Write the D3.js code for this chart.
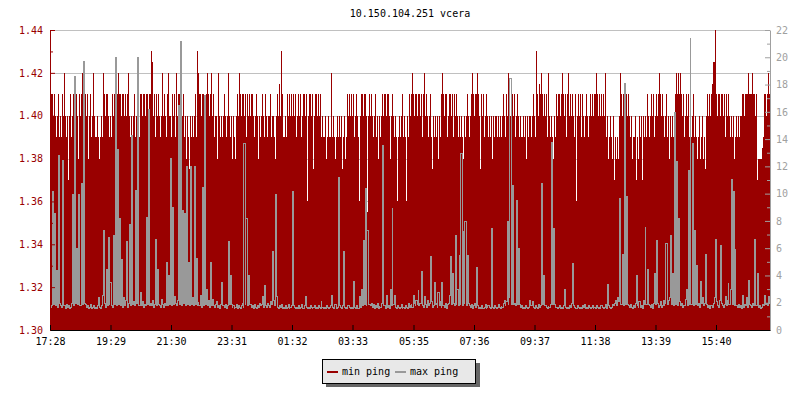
<!DOCTYPE html>
<html><head><meta charset="utf-8">
<script src="https://cdn.jsdelivr.net/npm/d3@7"></script>
<style>
body{margin:0;background:#fff;}
text{font-family:"DejaVu Sans Mono",monospace;font-size:10px;}
</style>
</head><body>
<svg id="chart" width="800" height="400"></svg>
<script>
const title = "10.150.104.251 vcera";
const startLabel = "17:28";
const stepMinutes = 2;
const spanMinutes = 1440;
const timeTicks = ["17:28","19:29","21:30","23:31","01:32","03:33","05:35","07:36","09:37","11:38","13:39","15:40"];
const leftTicks = [1.30,1.32,1.34,1.36,1.38,1.40,1.42,1.44];
const leftMinorTicks = [1.31,1.33,1.35,1.37,1.39,1.41,1.43];
const rightTicks = [0,2,4,6,8,10,12,14,16,18,20,22];
const rightMinorTicks = [1,3,5,7,9,11,13,15,17,19,21];
const seriesNames = ["min ping","max ping"];

// min ping (left axis), one value per 2 minutes
const minPing = [
1.41,1.41,1.41,1.40,1.41,1.40,1.39,1.40,1.41,1.39,1.40,1.39,1.41,1.40,1.42,1.40,1.39,1.40,1.37,1.40,1.41,1.39,1.40,1.41,1.40,1.39,1.41,1.40,1.38,1.41,1.40,1.41,1.42,1.40,1.39,1.41,1.40,1.41,1.38,1.40,1.41,1.39,1.40,1.42,1.40,1.39,1.39,1.40,1.39,1.38,1.39,1.40,1.39,1.42,1.41,1.40,1.41,1.41,1.40,1.39,
1.40,1.39,1.41,1.40,1.41,1.41,1.40,1.41,1.42,1.41,1.41,1.40,1.41,1.41,1.40,1.41,1.40,1.41,1.42,1.40,1.39,1.40,1.39,1.40,1.41,1.39,1.40,1.38,1.40,1.39,1.41,1.41,1.40,1.41,1.41,1.40,1.41,1.41,1.40,1.41,1.41,1.43,1.425,1.40,1.41,1.39,1.41,1.40,1.41,1.40,1.39,1.40,1.42,1.40,1.41,1.40,1.39,1.41,1.42,1.40,
1.40,1.39,1.41,1.40,1.41,1.39,1.42,1.40,1.41,1.41,1.40,1.41,1.40,1.41,1.39,1.40,1.38,1.40,1.39,1.375,1.40,1.39,1.40,1.39,1.40,1.41,1.39,1.43,1.42,1.41,1.41,1.40,1.41,1.41,1.40,1.37,1.41,1.42,1.41,1.40,1.41,1.42,1.40,1.41,1.39,1.40,1.40,1.38,1.42,1.40,1.39,1.40,1.39,1.40,1.41,1.40,1.39,1.40,1.42,1.40,
1.39,1.40,1.38,1.40,1.39,1.38,1.40,1.41,1.40,1.42,1.41,1.40,1.41,1.41,1.40,1.41,1.39,1.41,1.40,1.41,1.40,1.41,1.41,1.40,1.39,1.40,1.41,1.40,1.38,1.40,1.39,1.40,1.41,1.40,1.39,1.41,1.40,1.39,1.40,1.40,1.41,1.39,1.40,1.40,1.39,1.38,1.40,1.41,1.40,1.415,1.40,1.43,1.41,1.39,1.39,1.40,1.39,1.41,1.40,1.41,
1.40,1.41,1.40,1.41,1.40,1.41,1.39,1.40,1.41,1.40,1.41,1.39,1.40,1.41,1.41,1.40,1.41,1.36,1.40,1.41,1.41,1.40,1.41,1.375,1.40,1.41,1.41,1.40,1.41,1.40,1.41,1.39,1.40,1.39,1.39,1.40,1.38,1.39,1.40,1.39,1.39,1.42,1.39,1.40,1.39,1.38,1.39,1.40,1.39,1.40,1.39,1.40,1.375,1.39,1.40,1.38,1.39,1.41,1.40,1.41,
1.40,1.41,1.40,1.41,1.39,1.40,1.41,1.40,1.39,1.36,1.40,1.41,1.41,1.40,1.41,1.41,1.40,1.355,1.40,1.41,1.40,1.41,1.40,1.39,1.40,1.41,1.39,1.40,1.38,1.40,1.39,1.40,1.41,1.40,1.41,1.41,1.40,1.41,1.41,1.40,1.38,1.40,1.41,1.40,1.39,1.40,1.39,1.36,1.39,1.40,1.39,1.40,1.41,1.39,1.40,1.39,1.36,1.40,1.39,1.41,
1.40,1.41,1.42,1.41,1.40,1.41,1.41,1.40,1.41,1.41,1.40,1.41,1.39,1.41,1.42,1.40,1.41,1.40,1.39,1.40,1.41,1.39,1.375,1.40,1.39,1.40,1.39,1.40,1.38,1.40,1.39,1.41,1.42,1.41,1.40,1.41,1.41,1.39,1.40,1.41,1.41,1.40,1.41,1.39,1.41,1.40,1.41,1.40,1.39,1.40,1.39,1.40,1.39,1.38,1.40,1.39,1.40,1.41,1.40,1.39,
1.40,1.41,1.42,1.41,1.40,1.41,1.41,1.42,1.41,1.40,1.375,1.41,1.40,1.41,1.39,1.40,1.41,1.40,1.39,1.40,1.39,1.40,1.38,1.40,1.39,1.40,1.40,1.39,1.40,1.39,1.40,1.39,1.40,1.41,1.40,1.39,1.41,1.40,1.42,1.41,1.40,1.41,1.41,1.40,1.41,1.39,1.40,1.41,1.40,1.39,1.40,1.39,1.39,1.40,1.39,1.40,1.38,1.40,1.39,1.40,
1.40,1.39,1.40,1.41,1.40,1.39,1.43,1.41,1.40,1.415,1.41,1.42,1.41,1.40,1.41,1.40,1.41,1.39,1.42,1.40,1.39,1.40,1.39,1.38,1.40,1.39,1.41,1.40,1.41,1.41,1.40,1.41,1.42,1.41,1.40,1.41,1.39,1.41,1.42,1.40,1.41,1.40,1.41,1.40,1.39,1.41,1.36,1.40,1.41,1.40,1.41,1.39,1.41,1.40,1.39,1.40,1.41,1.40,1.39,1.40,
1.41,1.40,1.41,1.40,1.41,1.41,1.42,1.41,1.40,1.41,1.40,1.41,1.40,1.41,1.40,1.42,1.39,1.40,1.38,1.39,1.40,1.39,1.38,1.40,1.37,1.39,1.38,1.39,1.38,1.40,1.42,1.41,1.40,1.41,1.41,1.40,1.41,1.40,1.41,1.40,1.39,1.40,1.38,1.39,1.39,1.40,1.37,1.39,1.38,1.40,1.39,1.40,1.37,1.40,1.39,1.40,1.39,1.41,1.40,1.39,
1.40,1.41,1.40,1.41,1.39,1.40,1.41,1.40,1.41,1.42,1.41,1.40,1.41,1.40,1.39,1.40,1.41,1.39,1.40,1.38,1.40,1.39,1.40,1.39,1.40,1.41,1.42,1.41,1.42,1.41,1.42,1.41,1.40,1.41,1.39,1.40,1.41,1.40,1.41,1.39,1.40,1.39,1.40,1.41,1.39,1.40,1.39,1.38,1.39,1.40,1.38,1.39,1.40,1.38,1.39,1.375,1.40,1.41,1.40,1.41,
1.40,1.41,1.415,1.425,1.425,1.44,1.41,1.40,1.41,1.41,1.40,1.41,1.41,1.40,1.41,1.39,1.41,1.40,1.41,1.40,1.39,1.40,1.39,1.40,1.38,1.39,1.40,1.39,1.40,1.39,1.40,1.40,1.41,1.41,1.40,1.41,1.41,1.41,1.42,1.41,1.41,1.41,1.42,1.41,1.41,1.40,1.41,1.37,1.38,1.38,1.38,1.38,1.385,1.39,1.41,1.41,1.40,1.41,1.42,1.41
];

// max ping (right axis), one value per 2 minutes
const maxPing = [
1.7,1.8,10.2,1.9,8.6,1.8,4.4,1.7,12.8,2.0,1.8,1.7,12.5,1.8,1.8,1.6,1.9,1.7,1.8,1.6,1.7,2.0,10.0,1.8,18.6,2.0,6.0,1.9,10.0,1.8,1.8,10.8,1.9,19.7,2.0,1.9,1.7,1.8,1.6,1.7,1.9,1.6,1.7,1.8,1.6,1.7,1.6,1.8,2.4,1.7,1.6,1.8,2.6,7.3,2.0,1.7,4.5,1.8,6.8,1.9,
3.5,1.8,1.7,7.0,1.9,20.0,1.8,13.3,1.9,8.2,1.8,5.2,1.7,2.4,1.8,2.2,6.5,1.7,2.0,7.8,1.8,14.3,1.9,2.1,1.8,10.3,2.0,20.0,1.8,1.8,2.8,1.8,2.1,1.7,1.9,1.8,8.3,1.9,16.2,1.8,2.0,1.8,2.2,1.7,1.9,6.7,1.8,4.5,1.9,1.8,1.7,2.3,1.9,1.7,2.0,1.8,5.0,1.8,4.0,1.9,
12.6,1.8,9.0,1.9,2.5,2.0,1.8,2.2,16.5,1.9,21.2,1.8,8.8,2.0,8.6,1.8,12.0,1.9,5.0,1.8,12.0,1.9,2.4,1.8,12.0,1.9,5.3,1.8,2.1,1.8,2.6,1.7,10.5,1.8,17.2,1.9,3.0,1.8,2.2,1.7,5.0,1.8,2.3,1.8,1.7,1.9,2.1,1.7,1.8,1.6,1.9,3.5,1.8,1.8,1.7,1.9,1.6,1.8,6.5,1.9,
4.0,1.9,1.7,1.8,1.6,1.7,1.9,1.6,1.8,1.7,1.6,1.8,2.0,1.7,13.7,1.9,8.2,1.8,4.0,1.9,1.9,1.7,1.8,1.6,1.9,1.7,1.6,1.8,1.7,2.0,1.8,1.9,2.5,1.7,3.3,1.8,1.7,2.0,1.8,1.7,2.1,1.9,5.8,2.2,1.8,10.0,2.5,1.7,1.6,1.8,1.7,1.9,1.6,1.7,1.6,1.8,1.6,1.7,1.9,1.6,
1.7,1.8,10.2,1.8,1.7,1.6,1.7,1.6,1.8,1.6,1.7,1.9,1.7,1.6,1.8,2.5,1.7,1.6,1.7,1.6,1.8,1.7,1.6,1.7,1.8,1.6,1.7,1.6,1.8,1.7,1.6,2.2,1.7,1.6,1.7,1.6,1.8,1.7,1.6,1.7,1.8,2.6,1.7,1.6,1.7,1.9,1.6,1.7,11.2,1.8,1.7,1.6,1.8,5.8,1.7,1.6,1.7,1.6,1.8,1.7,
1.6,1.7,1.6,3.6,1.7,1.6,1.8,1.7,1.6,2.5,1.7,3.0,1.8,6.6,1.9,10.4,1.8,7.3,1.9,1.9,1.8,2.0,1.7,1.9,1.6,1.8,1.7,2.0,1.6,1.8,1.7,2.0,13.6,1.8,1.8,1.6,2.6,1.7,1.8,1.6,3.0,1.8,9.0,1.9,2.6,1.7,1.6,1.8,1.7,1.6,1.7,1.9,1.6,1.7,1.6,1.8,1.7,1.6,2.0,1.7,
1.8,2.0,1.7,2.6,2.0,1.8,2.2,1.9,3.0,1.8,2.0,4.3,1.8,1.7,2.5,1.9,1.7,2.2,1.8,2.0,5.4,2.1,1.7,1.8,3.5,1.9,2.0,1.7,2.8,1.8,2.1,1.7,3.5,1.8,1.7,2.0,1.6,1.9,2.0,2.6,5.4,1.9,4.2,2.0,1.8,7.0,1.9,3.0,1.8,5.5,1.9,13.0,1.8,7.3,2.0,8.0,1.8,5.5,2.0,1.8,
1.7,1.9,1.6,1.8,2.0,1.7,4.6,1.8,1.6,1.7,1.6,1.8,1.7,1.6,1.7,1.9,1.6,1.7,1.8,1.7,1.6,7.5,1.7,1.6,1.8,1.7,1.6,1.7,1.9,1.7,1.6,1.8,1.7,2.0,2.2,1.8,2.1,8.0,1.9,2.4,18.5,1.9,10.6,1.9,2.0,1.8,9.5,1.9,6.0,1.9,1.7,1.8,1.6,1.7,1.6,1.8,1.7,1.6,1.7,1.8,
2.2,1.8,2.1,1.7,1.6,1.8,1.7,1.6,1.9,1.7,1.8,10.8,1.9,4.0,1.8,1.8,1.7,1.6,1.8,1.7,1.9,13.8,1.9,7.5,1.9,1.8,1.7,1.6,1.7,1.8,1.6,1.7,1.6,1.8,3.0,1.7,1.6,1.7,1.6,1.8,1.7,2.0,4.9,1.8,1.8,1.7,1.6,1.8,1.7,1.6,1.7,1.6,1.8,1.7,1.9,1.6,1.7,1.6,1.8,1.7,
1.6,1.7,1.8,1.6,1.7,1.6,1.8,1.7,1.6,1.7,1.6,1.8,1.7,1.6,1.7,1.9,1.6,3.4,1.8,1.7,1.6,1.7,1.9,1.8,2.0,2.2,1.8,2.4,2.1,2.6,9.7,1.9,5.6,1.8,18.1,1.9,9.8,1.9,1.8,1.7,1.9,1.7,1.6,1.8,1.7,2.0,4.0,1.8,1.7,2.1,1.7,1.8,1.6,2.2,1.9,7.6,1.9,4.5,1.9,1.8,
1.7,1.9,1.6,2.0,4.2,1.9,6.6,2.0,1.7,1.8,2.1,1.7,1.8,2.2,1.8,2.0,6.4,1.9,2.2,2.4,7.0,1.9,4.2,1.8,16.0,1.9,12.4,1.8,8.2,2.1,1.8,2.0,1.7,1.9,1.8,2.3,3.0,1.8,11.7,1.9,21.5,1.9,13.7,1.8,7.3,1.9,4.8,1.8,2.0,1.7,3.6,2.0,2.4,1.8,2.0,5.6,1.9,1.7,1.8,1.7,
1.6,1.8,1.7,2.0,2.4,6.7,2.1,1.8,1.7,2.2,6.2,2.0,1.8,1.7,1.9,2.5,1.8,2.2,3.5,1.9,3.0,11.1,1.9,10.2,1.8,6.0,1.8,1.7,1.9,1.7,1.8,1.6,2.6,1.7,1.9,1.8,2.4,1.7,3.7,1.9,1.8,1.7,2.0,1.8,2.2,6.7,1.8,4.2,1.7,1.8,1.6,1.7,1.9,1.8,2.6,1.9,2.0,1.8,2.5,2.0
];

const colors = {min:"#990000", max:"#999999"};
const svg = d3.select("#chart");
const M = {left:50, right:770, top:30, bottom:330};

function toMin(lbl){
  const [h,m] = lbl.split(":").map(Number);
  const [sh,sm] = startLabel.split(":").map(Number);
  return ((h*60+m) - (sh*60+sm) + 1440) % 1440;
}

const x = d3.scaleLinear().domain([0, spanMinutes]).range([M.left, M.right]);
const yL = d3.scaleLinear().domain([1.30, 1.44]).range([M.bottom, M.top]);
const yR = d3.scaleLinear().domain([0, 22]).range([M.bottom, M.top]);

// title
svg.append("text").attr("x", (M.left+M.right)/2).attr("y", 17)
  .attr("text-anchor","middle").attr("fill","#000").text(title);

// grid
svg.append("g").selectAll("line").data(leftTicks).join("line")
  .attr("x1", M.left).attr("x2", M.right)
  .attr("y1", d => Math.round(yL(d))+0.5).attr("y2", d => Math.round(yL(d))+0.5)
  .attr("stroke","#c0c0c0").attr("shape-rendering","crispEdges");

// min ping area (step)
const minPts = minPing.map((v,i) => ({t:i*stepMinutes, v}));
minPts.push({t:spanMinutes, v:minPing[minPing.length-1]});
svg.append("path").datum(minPts)
  .attr("d", d3.area().curve(d3.curveStepAfter)
     .x(d => x(d.t)).y0(yL(1.30)).y1(d => Math.round(yL(d.v))))
  .attr("fill", colors.min).attr("shape-rendering","crispEdges");

// max ping line (step)
svg.append("path").datum(maxPing)
  .attr("d", d3.line().curve(d3.curveStepAfter)
     .x((d,i) => Math.floor(x(i*stepMinutes)) + 0.5)
     .y(d => Math.round(yR(d)) + 0.5))
  .attr("fill","none").attr("stroke", colors.max).attr("stroke-width",1)
  .attr("shape-rendering","crispEdges");

// left axis
const gL = svg.append("g").attr("transform",`translate(${M.left},0)`);
gL.call(d3.axisLeft(yL).tickValues(leftTicks).tickFormat(d3.format(".2f"))
   .tickSizeInner(-5).tickSizeOuter(0).tickPadding(7));
gL.append("g").call(d3.axisLeft(yL).tickValues(leftMinorTicks).tickFormat("")
   .tickSizeInner(-3).tickSizeOuter(0)).select(".domain").remove();
gL.selectAll("path,line").attr("stroke", colors.min);
gL.selectAll("text").attr("fill", colors.min).style("font-family","DejaVu Sans Mono").style("font-size","10px");

// right axis
const gR = svg.append("g").attr("transform",`translate(${M.right},0)`);
gR.call(d3.axisRight(yR).tickValues(rightTicks)
   .tickSizeInner(-5).tickSizeOuter(0).tickPadding(6));
gR.append("g").call(d3.axisRight(yR).tickValues(rightMinorTicks).tickFormat("")
   .tickSizeInner(-3).tickSizeOuter(0)).select(".domain").remove();
gR.selectAll("path,line").attr("stroke", "#a0a0a0");
gR.selectAll("text").attr("fill", "#a0a0a0").style("font-family","DejaVu Sans Mono").style("font-size","10px");

// bottom axis
const gB = svg.append("g").attr("transform",`translate(0,${M.bottom})`);
gB.call(d3.axisBottom(x).tickValues(timeTicks.map(toMin))
   .tickFormat((d,i) => timeTicks[i])
   .tickSizeInner(-5).tickSizeOuter(0).tickPadding(8));
gB.selectAll("path,line").attr("stroke","#000");
gB.selectAll("text").attr("fill","#000").style("font-family","DejaVu Sans Mono").style("font-size","10px");

// legend
const lg = svg.append("g");
lg.append("rect").attr("x",326).attr("y",363).attr("width",154).attr("height",24).attr("fill","#666");
lg.append("rect").attr("x",322.5).attr("y",359.5).attr("width",153).attr("height",24)
  .attr("fill","#e8e8e8").attr("stroke","#000");
const items = [{name:seriesNames[0], c:colors.min, x:327},{name:seriesNames[1], c:colors.max, x:395}];
items.forEach(it => {
  lg.append("rect").attr("x",it.x).attr("y",371).attr("width",11).attr("height",2).attr("fill",it.c);
  lg.append("text").attr("x",it.x+15).attr("y",375).attr("fill","#000").text(it.name);
});
</script>
</body></html>
